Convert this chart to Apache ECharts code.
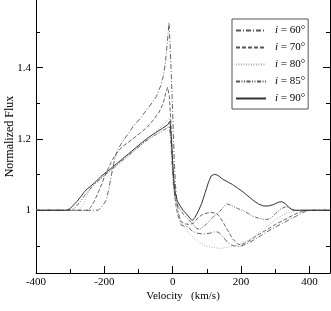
<!DOCTYPE html>
<html>
<head>
<meta charset="utf-8">
<script src="https://cdn.jsdelivr.net/npm/echarts@6/dist/echarts.min.js"></script>
<style>
html,body{margin:0;padding:0;background:#fff;}
#chart{width:331px;height:311px;}
</style>
</head>
<body>
<div id="chart"></div>
<script>
// Tick values
const xMajorTicks = [-400, -200, 0, 200, 400];
const xMinorTicks = [-300, -100, 100, 300];
const yMajorTicks = [1, 1.2, 1.4];
const yMinorTicks = [0.9, 1.1, 1.3, 1.5];

// Series names / legend labels
const seriesNames = ['60', '70', '80', '85', '90'];

// [velocity km/s, normalized flux]
const flux60 = [[-400,1],[-218,1],[-208,1.01],[-200,1.02],[-194,1.03],[-188,1.055],[-182,1.085],[-176,1.115],[-169,1.148],[-160,1.17],[-150,1.188],[-130,1.215],[-116,1.235],[-95,1.258],[-77,1.281],[-60,1.302],[-48,1.319],[-35,1.35],[-28,1.375],[-22,1.41],[-18,1.45],[-14,1.49],[-11,1.527],[-8,1.47],[-5,1.4],[-2,1.32],[1,1.24],[4,1.15],[8,1.07],[12,1.025],[16,1.0],[20,0.975],[25,0.958],[35,0.955],[45,0.954],[55,0.943],[70,0.936],[90,0.933],[110,0.936],[125,0.94],[135,0.938],[150,0.922],[165,0.905],[180,0.9],[195,0.898],[215,0.905],[240,0.918],[260,0.93],[280,0.942],[300,0.953],[320,0.963],[340,0.973],[360,0.983],[380,0.993],[395,1],[460,1]];

const flux70 = [[-400,1],[-250,1],[-240,1.008],[-230,1.025],[-220,1.045],[-210,1.068],[-200,1.093],[-190,1.115],[-180,1.135],[-170,1.152],[-160,1.166],[-145,1.18],[-120,1.198],[-96,1.216],[-75,1.233],[-57,1.253],[-40,1.275],[-28,1.3],[-20,1.33],[-15,1.345],[-10,1.32],[-6,1.26],[-2,1.17],[2,1.09],[6,1.04],[10,1.01],[15,0.985],[22,0.97],[35,0.962],[50,0.96],[62,0.965],[75,0.98],[90,0.99],[110,0.994],[126,0.992],[135,0.985],[148,0.965],[160,0.945],[175,0.92],[190,0.905],[200,0.903],[220,0.912],[240,0.925],[260,0.937],[280,0.948],[300,0.96],[320,0.97],[340,0.98],[360,0.99],[380,0.997],[392,1],[460,1]];

const flux80 = [[-400,1],[-278,1],[-268,1.008],[-258,1.025],[-248,1.048],[-238,1.068],[-225,1.08],[-200,1.096],[-170,1.118],[-140,1.143],[-110,1.168],[-80,1.195],[-50,1.22],[-25,1.242],[-10,1.26],[-5,1.22],[-1,1.13],[3,1.06],[8,1.025],[14,1.0],[22,0.975],[32,0.955],[45,0.937],[58,0.926],[75,0.912],[95,0.9],[115,0.896],[140,0.893],[165,0.897],[190,0.903],[210,0.91],[235,0.925],[260,0.942],[285,0.962],[310,0.98],[335,0.992],[360,0.998],[378,1],[460,1]];

const flux85 = [[-400,1],[-298,1],[-285,1.008],[-270,1.025],[-255,1.045],[-240,1.062],[-220,1.08],[-200,1.098],[-170,1.122],[-140,1.146],[-110,1.17],[-80,1.193],[-50,1.212],[-25,1.226],[-10,1.235],[-6,1.2],[-2,1.13],[2,1.07],[6,1.04],[12,1.02],[20,1.005],[30,0.99],[45,0.975],[58,0.962],[68,0.95],[78,0.946],[90,0.953],[105,0.968],[120,0.983],[135,0.995],[148,1.008],[158,1.018],[170,1.014],[190,1.005],[210,0.997],[230,0.985],[250,0.978],[270,0.974],[285,0.976],[300,0.99],[315,1.003],[330,1.01],[340,1.008],[355,1.0],[460,1]];

const flux90 = [[-400,1],[-310,1],[-300,1.005],[-290,1.015],[-280,1.025],[-270,1.037],[-260,1.05],[-250,1.06],[-240,1.068],[-225,1.08],[-210,1.095],[-190,1.11],[-170,1.126],[-150,1.142],[-130,1.158],[-110,1.174],[-90,1.19],[-70,1.205],[-50,1.218],[-30,1.23],[-15,1.24],[-8,1.25],[-4,1.2],[0,1.13],[4,1.075],[8,1.045],[14,1.025],[22,1.012],[30,1.0],[40,0.99],[50,0.978],[57,0.971],[65,0.98],[75,0.998],[85,1.02],[95,1.05],[105,1.08],[113,1.097],[122,1.101],[132,1.098],[145,1.088],[160,1.08],[175,1.072],[190,1.062],[205,1.052],[220,1.04],[235,1.028],[250,1.018],[265,1.012],[280,1.012],[295,1.016],[310,1.023],[320,1.024],[330,1.018],[340,1.008],[350,1.001],[360,1],[460,1]];

const FONT = '"Liberation Serif", "Times New Roman", serif';
const X_MIN = -400, X_MAX = 460, Y_MIN = 0.824, Y_MAX = 1.59;

function xAxisCfg(ticks, len, labels) {
  return {
    type: 'value', position: 'bottom', min: X_MIN, max: X_MAX,
    axisLine: { show: labels, onZero: false, lineStyle: { color: '#000', width: 1 } },
    axisTick: { show: true, inside: true, length: len, customValues: ticks, lineStyle: { color: '#000' } },
    axisLabel: labels ? { show: true, customValues: ticks, color: '#000', fontFamily: FONT, fontSize: 11, margin: 4 } : { show: false },
    splitLine: { show: false },
    name: labels ? 'Velocity   (km/s)' : '',
    nameLocation: 'middle', nameGap: 18, nameMoveOverlap: false,
    nameTextStyle: { color: '#000', fontFamily: FONT, fontSize: 11 }
  };
}
function yAxisCfg(pos, ticks, len, labels, line) {
  return {
    type: 'value', position: pos, min: Y_MIN, max: Y_MAX,
    axisLine: { show: line, onZero: false, lineStyle: { color: '#000', width: 1 } },
    axisTick: { show: true, inside: true, length: len, customValues: ticks, lineStyle: { color: '#000' } },
    axisLabel: labels ? { show: true, customValues: ticks, color: '#000', fontFamily: FONT, fontSize: 11, margin: 5,
      formatter: v => String(Math.round(v * 10) / 10) } : { show: false },
    splitLine: { show: false },
    name: labels ? 'Normalized Flux' : '',
    nameLocation: 'middle', nameGap: 20, nameMoveOverlap: false,
    nameTextStyle: { color: '#000', fontFamily: FONT, fontSize: 12 }
  };
}

const styles = {
  '60': { color: '#555', type: [5, 2, 1, 2], width: 0.9 },
  '70': { color: '#555', type: [4, 2], width: 0.9 },
  '80': { color: '#aaa', type: [1, 1.5], width: 0.9 },
  '85': { color: '#555', type: [4, 1.5, 1, 1.5, 1, 1.5], width: 0.9 },
  '90': { color: '#333', type: 'solid', width: 1 }
};
const dataMap = { '60': flux60, '70': flux70, '80': flux80, '85': flux85, '90': flux90 };

const chart = echarts.init(document.getElementById('chart'), null, { renderer: 'canvas' });
chart.setOption({
  animation: false,
  backgroundColor: '#fff',
  grid: { left: 36, right: 1, top: 0, bottom: 38, outerBoundsMode: 'none', containLabel: false },
  xAxis: [xAxisCfg(xMajorTicks, 7, true), xAxisCfg(xMinorTicks, 4, false)],
  yAxis: [
    yAxisCfg('left', yMajorTicks, 7, true, true),
    yAxisCfg('left', yMinorTicks, 4, false, false),
    yAxisCfg('right', yMajorTicks, 7, false, true),
    yAxisCfg('right', yMinorTicks, 4, false, false)
  ],
  legend: {
    orient: 'vertical', left: 232, top: 19,
    padding: [6, 3, 5, 3], itemGap: 6, itemWidth: 30, itemHeight: 10,
    borderColor: '#555', borderWidth: 1, backgroundColor: '#fff',
    itemStyle: { opacity: 0 },
    data: seriesNames.map(n => 'i' + n),
    formatter: name => '{i|i} = ' + name.slice(1) + '°',
    textStyle: { fontFamily: FONT, fontSize: 11, color: '#000', lineHeight: 10, padding: [0, 0, 0, 4],
      rich: { i: { fontStyle: 'italic', fontFamily: FONT, fontSize: 11, lineHeight: 10 } } }
  },
  series: seriesNames.map(n => ({
    name: 'i' + n, type: 'line', data: dataMap[n],
    xAxisIndex: 0, yAxisIndex: 0,
    showSymbol: false, symbol: 'none', smooth: false,
    lineStyle: styles[n], itemStyle: { color: styles[n].color },
    z: n === '90' ? 5 : 3
  }))
});
</script>
</body>
</html>
